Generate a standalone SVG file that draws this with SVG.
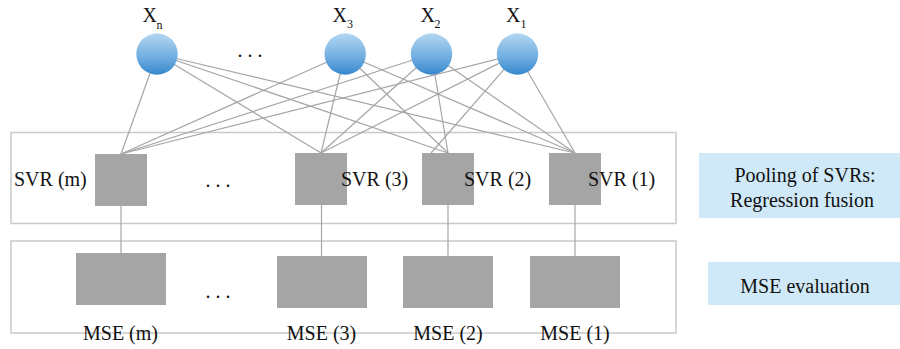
<svg xmlns="http://www.w3.org/2000/svg" width="900" height="349" viewBox="0 0 900 349">
  <defs>
    <linearGradient id="ballFill" x1="0" y1="0" x2="0" y2="1">
      <stop offset="0" stop-color="#b3d7f2"/>
      <stop offset="0.55" stop-color="#74b0e2"/>
      <stop offset="1" stop-color="#3788cc"/>
    </linearGradient>
    <style>
      text { font-family: 'Liberation Serif', 'Times New Roman', Times, 'DejaVu Serif', serif; fill: #111; }
      .txt { font-size: 20px; }
      .sub { font-size: 12px; }
      .link { stroke: #a6a6a6; stroke-width: 1.2; fill: none; }
      .frame { fill: none; stroke: #c9c9c9; stroke-width: 1.5; }
      .block { fill: #a5a5a5; }
      .ball { fill: url(#ballFill); }
      .note { fill: #d0e9f8; }
    </style>
  </defs>

  <!-- layer frames -->
  <rect class="frame" x="11" y="132.5" width="665" height="91"/>
  <rect class="frame" x="11" y="241" width="665" height="92"/>

  <!-- connectors: inputs to regressors, regressors to evaluators -->
  <g id="connectors">
    <!-- from X_n -->
    <line class="link" x1="157" y1="54" x2="121" y2="154"/>
    <line class="link" x1="157" y1="54" x2="321" y2="153"/>
    <line class="link" x1="157" y1="54" x2="448" y2="153"/>
    <line class="link" x1="157" y1="54" x2="575" y2="153"/>
    <!-- from X_3 -->
    <line class="link" x1="345" y1="54" x2="121" y2="154"/>
    <line class="link" x1="345" y1="54" x2="321" y2="153"/>
    <line class="link" x1="345" y1="54" x2="448" y2="153"/>
    <line class="link" x1="345" y1="54" x2="575" y2="153"/>
    <!-- from X_2 -->
    <line class="link" x1="431.5" y1="54" x2="121" y2="154"/>
    <line class="link" x1="431.5" y1="54" x2="321" y2="153"/>
    <line class="link" x1="431.5" y1="54" x2="448" y2="153"/>
    <line class="link" x1="431.5" y1="54" x2="575" y2="153"/>
    <!-- from X_1 -->
    <line class="link" x1="517.5" y1="54" x2="121" y2="154"/>
    <line class="link" x1="517.5" y1="54" x2="321" y2="153"/>
    <line class="link" x1="517.5" y1="54" x2="431" y2="153"/>
    <line class="link" x1="517.5" y1="54" x2="575" y2="153"/>
    <!-- regressor to evaluator -->
    <line class="link" x1="121" y1="205" x2="121" y2="253"/>
    <line class="link" x1="321.5" y1="205" x2="321.5" y2="256"/>
    <line class="link" x1="448" y1="205" x2="448" y2="256"/>
    <line class="link" x1="575" y1="205" x2="575" y2="256"/>
  </g>

  <!-- input nodes -->
  <g id="xn">
    <circle class="ball" cx="157" cy="54" r="20.7"/>
    <text class="txt" x="142.5" y="22">X</text>
    <text class="sub" x="156.5" y="29">n</text>
  </g>
  <g id="x3">
    <circle class="ball" cx="345.2" cy="54" r="20.7"/>
    <text class="txt" x="332.5" y="22">X</text>
    <text class="sub" x="347" y="28">3</text>
  </g>
  <g id="x2">
    <circle class="ball" cx="431.5" cy="54" r="20.7"/>
    <text class="txt" x="420.5" y="22">X</text>
    <text class="sub" x="434.5" y="28">2</text>
  </g>
  <g id="x1">
    <circle class="ball" cx="517.5" cy="54" r="20.7"/>
    <text class="txt" x="506" y="22">X</text>
    <text class="sub" x="520.5" y="28">1</text>
  </g>
  <text class="txt" x="250" y="57" text-anchor="middle">. . .</text>

  <!-- SVR nodes -->
  <g id="svr-m">
    <rect class="block" x="95" y="154" width="52" height="52"/>
    <text class="txt" x="14" y="186">SVR (m)</text>
  </g>
  <g id="svr-3">
    <rect class="block" x="295" y="153" width="52" height="52"/>
    <text class="txt" x="341" y="186">SVR (3)</text>
  </g>
  <g id="svr-2">
    <rect class="block" x="422" y="153" width="52" height="52"/>
    <text class="txt" x="464" y="186">SVR (2)</text>
  </g>
  <g id="svr-1">
    <rect class="block" x="549" y="153" width="52" height="52"/>
    <text class="txt" x="588" y="186">SVR (1)</text>
  </g>
  <text class="txt" x="218" y="187" text-anchor="middle">. . .</text>

  <!-- MSE nodes -->
  <g id="mse-m">
    <rect class="block" x="76" y="253" width="90" height="52"/>
    <text class="txt" x="120.5" y="340" text-anchor="middle">MSE (m)</text>
  </g>
  <g id="mse-3">
    <rect class="block" x="277" y="256" width="90" height="52"/>
    <text class="txt" x="321.5" y="340" text-anchor="middle">MSE (3)</text>
  </g>
  <g id="mse-2">
    <rect class="block" x="403" y="256" width="90" height="52"/>
    <text class="txt" x="448" y="340" text-anchor="middle">MSE (2)</text>
  </g>
  <g id="mse-1">
    <rect class="block" x="530" y="256" width="90" height="52"/>
    <text class="txt" x="575" y="340" text-anchor="middle">MSE (1)</text>
  </g>
  <text class="txt" x="218" y="298" text-anchor="middle">. . .</text>

  <!-- stage captions -->
  <g id="pooling">
    <rect class="note" x="699" y="153" width="201" height="65"/>
    <text class="txt" x="805" y="182" text-anchor="middle">Pooling of SVRs:</text>
    <text class="txt" x="802" y="207" text-anchor="middle">Regression fusion</text>
  </g>
  <g id="mse-eval">
    <rect class="note" x="708" y="262" width="192" height="43"/>
    <text class="txt" x="805" y="293" text-anchor="middle">MSE evaluation</text>
  </g>
</svg>
